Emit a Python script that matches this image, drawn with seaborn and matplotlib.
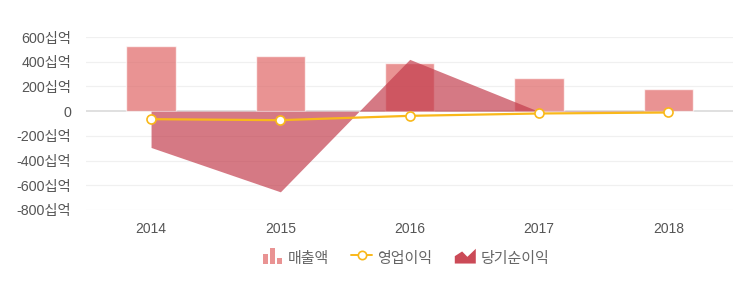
import numpy as np
import pandas as pd
import matplotlib
matplotlib.use("Agg")
import matplotlib.pyplot as plt
import seaborn as sns
from matplotlib.legend_handler import HandlerBase
from matplotlib.patches import Rectangle, Polygon
from matplotlib.lines import Line2D

# Annual figures, in 십억 (billions of won)
years = ["2014", "2015", "2016", "2017", "2018"]
revenue = [525, 445, 386, 265, 176]            # 매출액
operating_profit = [-65, -73, -38, -19, -11]   # 영업이익
net_income = [-294, -653, 419, -3, -3]         # 당기순이익
y_ticks = [600, 400, 200, 0, -200, -400, -600, -800]

BAR_COLOR = "#e06666"
AREA_COLOR = "#c23a4a"
LINE_COLOR = "#f9b81a"
TEXT_COLOR = "#555555"

sns.set_theme(style="white")
plt.rcParams["font.family"] = ["Liberation Sans", "Noto Sans CJK KR", "DejaVu Sans"]

fig = plt.figure(figsize=(7.48, 2.90), dpi=100)
ax = fig.add_axes([0.1155, 0.2759, 0.8645, 0.5965])

df = pd.DataFrame({"year": years, "revenue": revenue,
                   "op": operating_profit, "net": net_income})
pos = np.arange(len(years))

# grid
for t in y_ticks:
    ax.axhline(t, color="#dddddd" if t == 0 else "#f0f0f0",
               lw=1.3 if t == 0 else 0.9, zorder=0)

sns.barplot(data=df, x="year", y="revenue", color=BAR_COLOR, alpha=0.7,
            width=0.38, saturation=1, ax=ax, zorder=2)

ax.fill_between(pos, 0, df["net"], color=AREA_COLOR, alpha=0.68,
                lw=0, zorder=3)

sns.lineplot(x=pos, y=df["op"], color=LINE_COLOR, lw=1.6, ax=ax,
             marker="o", markersize=6.5, markerfacecolor="white",
             markeredgecolor=LINE_COLOR, markeredgewidth=1.2, zorder=4)

ax.set_xlim(-0.5, len(years) - 0.5)
ax.set_ylim(-800, 600)
ax.set_yticks(y_ticks)
ax.set_yticklabels(["0" if t == 0 else f"{t}십억" for t in y_ticks])
ax.set_xticks(pos)
ax.set_xticklabels(years)
ax.set_xlabel("")
ax.set_ylabel("")
ax.tick_params(axis="y", length=0, pad=11, labelsize=10.3, labelcolor=TEXT_COLOR)
ax.tick_params(axis="x", length=0, pad=9, labelsize=10, labelcolor=TEXT_COLOR)
for s in ax.spines.values():
    s.set_visible(False)


class BarIcon(HandlerBase):
    def create_artists(self, legend, orig, x0, y0, w, h, fs, trans):
        arts = []
        heights = [0.75, 1.2, 0.45]
        bw = w * 0.24
        for i, hh in enumerate(heights):
            r = Rectangle((x0 + w * 0.1 + i * w * 0.32, y0 - h * 0.2), bw, h * hh,
                          facecolor=BAR_COLOR, alpha=0.7, lw=0, transform=trans)
            arts.append(r)
        return arts


class LineIcon(HandlerBase):
    def create_artists(self, legend, orig, x0, y0, w, h, fs, trans):
        ym = y0 + h / 2
        ln = Line2D([x0, x0 + w], [ym, ym], color=LINE_COLOR, lw=1.4, transform=trans)
        mk = Line2D([x0 + w / 2], [ym], marker="o", markersize=6,
                    markerfacecolor="white", markeredgecolor=LINE_COLOR,
                    markeredgewidth=1.2, transform=trans)
        return [ln, mk]


class AreaIcon(HandlerBase):
    def create_artists(self, legend, orig, x0, y0, w, h, fs, trans):
        pts = [(x0, y0 - h * 0.15), (x0, y0 + h * 0.4), (x0 + w * 0.35, y0 + h * 0.75),
               (x0 + w * 0.6, y0 + h * 0.35), (x0 + w, y0 + h * 0.95), (x0 + w, y0 - h * 0.15)]
        p = Polygon(pts, closed=True, facecolor="#c9404e", alpha=0.95, lw=0,
                    transform=trans)
        return [p]


h1, h2, h3 = object(), object(), object()
fig.legend([h1, h2, h3], ["매출액", "영업이익", "당기순이익"],
           handler_map={h1: BarIcon(), h2: LineIcon(), h3: AreaIcon()},
           loc="center", bbox_to_anchor=(0.542, 0.108), ncol=3, frameon=False,
           prop={"family": ["Noto Sans CJK KR"], "size": 10.8},
           labelcolor="#666666", handlelength=1.4, handleheight=1.0,
           handletextpad=0.35, columnspacing=1.5)

fig.savefig("out.png", dpi=100, facecolor="white")
